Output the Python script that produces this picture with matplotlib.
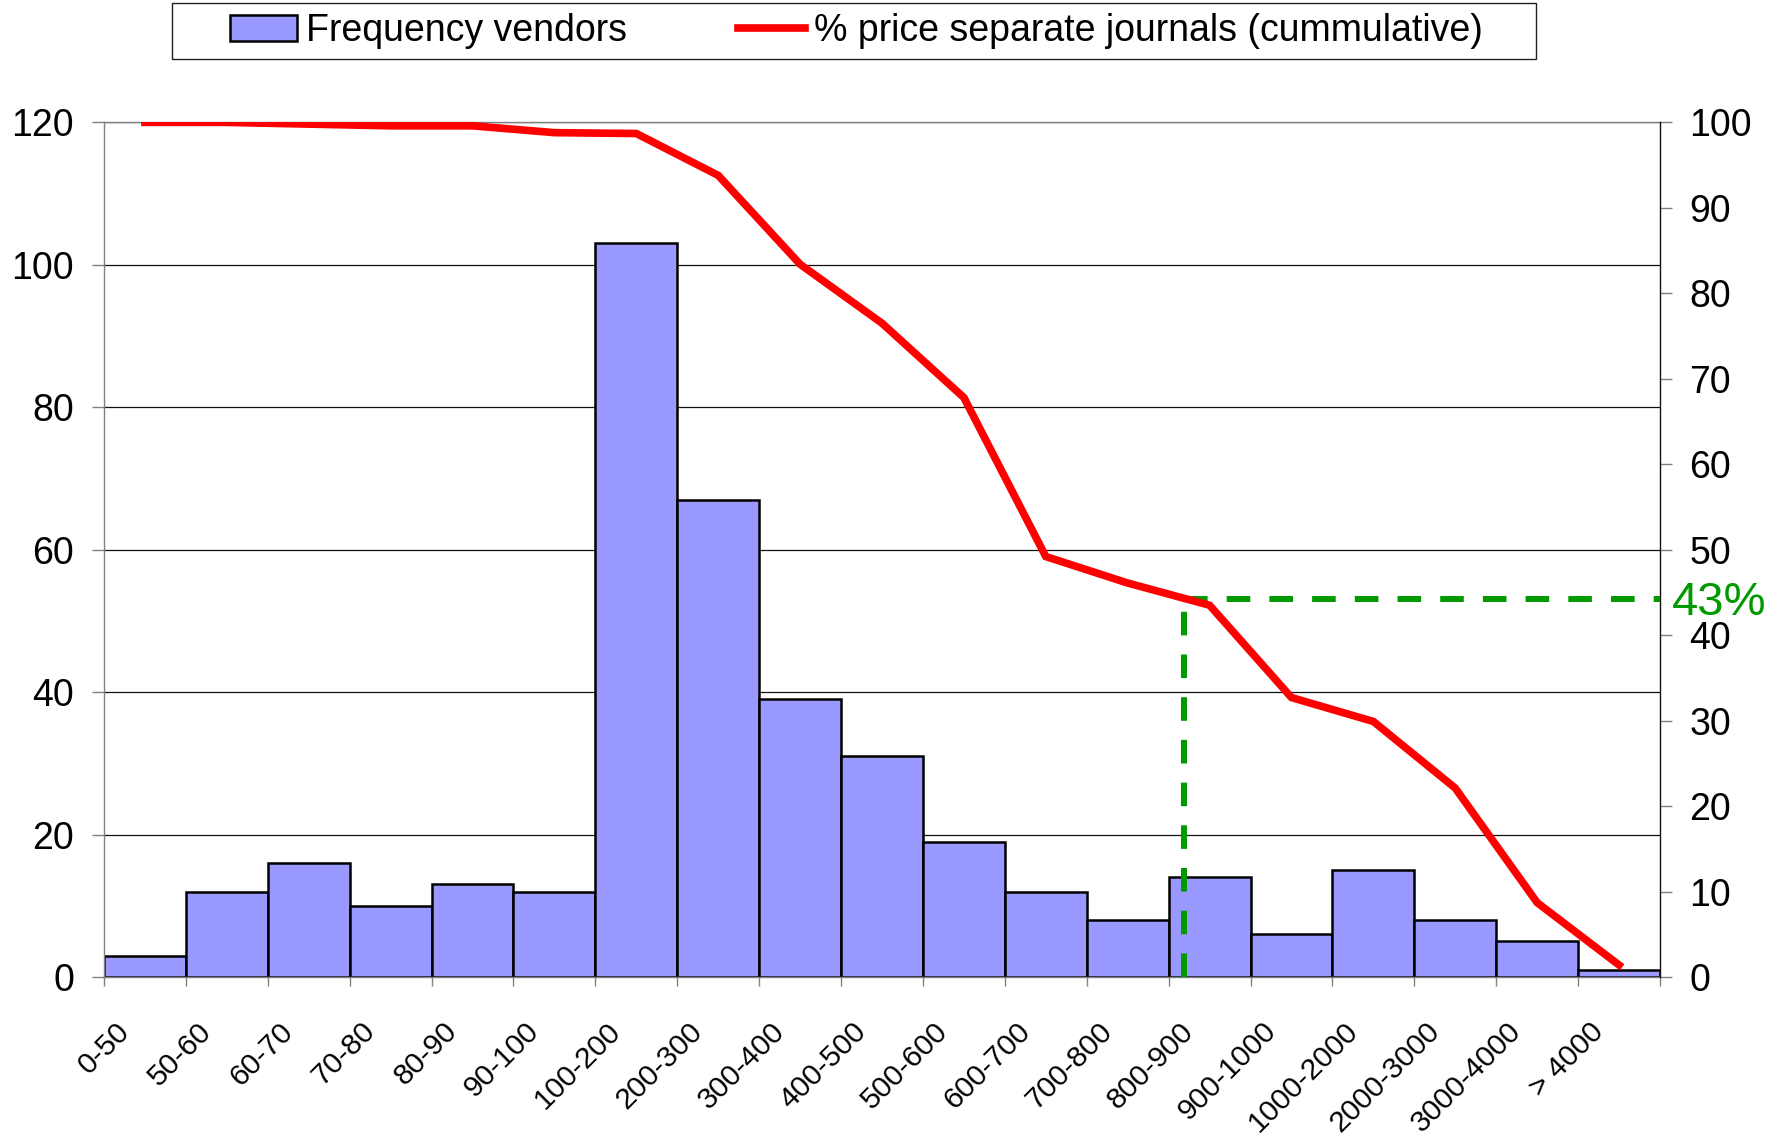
import matplotlib
matplotlib.use("Agg")
import matplotlib.pyplot as plt
import matplotlib.transforms as mtransforms
from matplotlib.patches import Patch, Rectangle
from matplotlib.lines import Line2D

plt.rcParams['font.family'] = ['Liberation Sans', 'DejaVu Sans']

categories = ["0-50", "50-60", "60-70", "70-80", "80-90", "90-100", "100-200",
              "200-300", "300-400", "400-500", "500-600", "600-700", "700-800",
              "800-900", "900-1000", "1000-2000", "2000-3000", "3000-4000", "> 4000"]
frequency = [3, 12, 16, 10, 13, 12, 103, 67, 39, 31, 19, 12, 8, 14, 6, 15, 8, 5, 1]
cumulative_pct = [100, 100, 99.8, 99.6, 99.6, 98.8, 98.7, 93.8, 83.4, 76.5, 67.8,
                  49.2, 46.1, 43.5, 32.7, 29.9, 22.1, 8.7, 1.4]
marker_x = 12.69      # position of the 43% marker (category axis units)
marker_pct = 44.2     # level of the 43% marker (right axis)
marker_label = "43%"

left_ticks = [0, 20, 40, 60, 80, 100, 120]
right_ticks = [0, 10, 20, 30, 40, 50, 60, 70, 80, 90, 100]

W, H, DPI = 1777, 1138, 100
fig = plt.figure(figsize=(W / DPI, H / DPI), dpi=DPI)
ax = fig.add_axes([104 / W, 1 - 977 / H, (1660 - 104) / W, (977 - 122.4) / H])
ax2 = ax.twinx()

x = list(range(len(categories)))
ax.bar(x, frequency, width=1.0, color="#9999FF", edgecolor="black", linewidth=1.8, zorder=2)
ax.set_xlim(-0.5, len(categories) - 0.5)
ax.set_ylim(0, 120)
ax.set_yticks(left_ticks)
ax.set_axisbelow(True)
ax.yaxis.grid(True, color="#111111", linewidth=0.9)

# x ticks at category boundaries, labels at centres
ax.set_xticks([i - 0.5 for i in range(len(categories) + 1)])
ax.set_xticklabels([])
ax.set_xticks(x, minor=True)
ax.set_xticklabels(categories, minor=True, fontsize=21.5, rotation=45,
                   ha="right", va="center", rotation_mode="anchor")
ax.tick_params(axis="x", which="major", length=6.7, color="#808080", width=1)
ax.tick_params(axis="x", which="minor", length=0, pad=36)
offset = mtransforms.ScaledTranslation(-20 / DPI, 0, fig.dpi_scale_trans)
for lab in ax.get_xticklabels(minor=True):
    lab.set_transform(lab.get_transform() + offset)

ax.tick_params(axis="y", labelsize=27, length=8.5, pad=13, color="#808080", width=1)
for s in ["left", "bottom", "top"]:
    ax.spines[s].set_color("#808080")
    ax.spines[s].set_linewidth(1)
ax.spines["right"].set_visible(False)

ax2.plot(x, cumulative_pct, color="#FF0000", linewidth=5.5, solid_joinstyle="miter", zorder=5)
ax2.set_ylim(0, 100)
ax2.set_yticks(right_ticks)
ax2.tick_params(axis="y", labelsize=27, length=8.3, pad=13, color="#808080", width=1)
for s in ["left", "bottom", "top"]:
    ax2.spines[s].set_visible(False)
ax2.spines["right"].set_color("#111111")
ax2.spines["right"].set_linewidth(1)

green = "#009900"
dash = (0, (3.95, 3.2))
ax2.plot([marker_x, marker_x], [0, marker_pct], color=green, linewidth=4.3,
         linestyle=dash, zorder=4)
ax2.plot([marker_x, len(categories) - 0.5], [marker_pct, marker_pct], color=green,
         linewidth=4.3, linestyle=dash, zorder=4)
ax2.text(1.0077, marker_pct - 0.4, marker_label, color=green, fontsize=34,
         transform=mtransforms.blended_transform_factory(ax2.transAxes, ax2.transData),
         ha="left", va="center", clip_on=False)

# legend (frame drawn separately to match the wide box)
handles = [Patch(facecolor="#9999FF", edgecolor="black", linewidth=1.8),
           Line2D([0], [0], color="#FF0000", linewidth=5.5)]
labels = ["Frequency vendors", "% price separate journals (cummulative)"]
leg = fig.legend(handles, labels, loc="center left", bbox_to_anchor=(230 / W, 1 - 31 / H),
                 ncol=2, fontsize=27, frameon=False,
                 handlelength=1.79, handletextpad=0.24, columnspacing=2.95,
                 borderpad=0, borderaxespad=0)
fig.patches.append(Rectangle((172.3 / W, 1 - 59 / H), (1535.7 - 172.3) / W, (59 - 3.4) / H,
                             transform=fig.transFigure, fill=False, edgecolor="#222222",
                             linewidth=1))

fig.savefig("out.png", dpi=DPI)
